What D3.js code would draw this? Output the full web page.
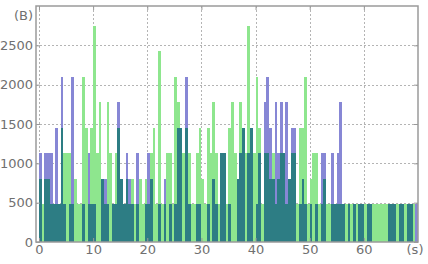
<!DOCTYPE html>
<html>
<head>
<meta charset="utf-8">
<script src="https://cdn.jsdelivr.net/npm/d3@7"></script>
<style>
  body { margin: 0; background: #fff; }
  text { font-family: "DejaVu Sans", sans-serif; }
</style>
</head>
<body>
<svg width="428" height="264"></svg>
<script>
(function (d3) {
  'use strict';

  // bytes per 0.5 s bin
  const binSize = 0.5;
  const green = [
    805, 480, 805, 805, 480, 480, 480, 480, 1450, 1130,
    1130, 1130, 480, 805, 480, 480, 2100, 1450, 480, 1450,
    2750, 1130, 1775, 805, 480, 1775, 1130, 480, 1130, 1450,
    805, 480, 805, 480, 805, 480, 480, 805, 480, 805,
    480, 1130, 1450, 480, 2425, 480, 480, 1130, 1130, 480,
    2100, 1775, 1450, 1130, 1450, 1130, 480, 480, 1130, 1450,
    805, 480, 1450, 1130, 1775, 1130, 480, 1130, 1130, 480,
    1450, 1775, 1130, 805, 1775, 1450, 1130, 2750, 1450, 1130,
    2100, 1450, 480, 1130, 1130, 805, 1130, 480, 805, 1130,
    1130, 480, 805, 1130, 1130, 480, 1450, 1450, 2100, 480,
    805, 1130, 1130, 480, 480, 805, 480, 480, 480, 480,
    480, 480, 480, 480, 480, 480, 480, 480, 480, 480,
    480, 480, 480, 480, 480, 480, 480, 480, 480, 480,
    480, 480, 480, 480, 480, 480, 480, 480, 480, 0
  ];
  const blue = [
    1130, 0, 1130, 1130, 1130, 480, 1450, 480, 2100, 480,
    0, 480, 2100, 0, 0, 0, 480, 0, 1130, 480,
    480, 0, 0, 805, 805, 480, 0, 480, 480, 1775,
    805, 480, 1130, 805, 480, 0, 1130, 0, 0, 480,
    1130, 805, 0, 0, 480, 0, 805, 0, 480, 0,
    480, 1450, 1450, 0, 2100, 480, 0, 0, 480, 480,
    0, 0, 480, 0, 805, 480, 0, 1130, 1130, 0,
    480, 0, 0, 805, 1130, 1450, 0, 1130, 1450, 0,
    480, 1130, 0, 1775, 2100, 1450, 805, 1775, 1130, 1775,
    1130, 1775, 805, 1450, 1450, 0, 480, 805, 480, 0,
    480, 0, 480, 0, 1130, 1130, 0, 0, 1130, 480,
    1130, 1775, 480, 0, 480, 0, 480, 0, 480, 480,
    0, 480, 480, 0, 0, 0, 0, 0, 0, 480,
    480, 480, 0, 480, 480, 0, 480, 480, 0, 480
  ];
  const xTicks = [0, 10, 20, 30, 40, 50, 60];
  const yTicks = [0, 500, 1000, 1500, 2000, 2500];
  const xUnit = '(s)';
  const yUnit = '(B)';

  const svg = d3.select('svg');
  const left = 36, right = 418, top = 6, bottom = 242;

  const x = d3.scaleLinear().domain([-0.55, 70]).range([left, right]);
  const y = d3.scaleLinear().domain([0, 3000]).range([bottom, top]);

  const bins = green.map((g, i) => ({ t: i * binSize, g: g, b: blue[i] }));

  // grid
  const grid = svg.append('g')
    .attr('stroke', '#b4b4b4')
    .attr('stroke-width', 1)
    .attr('stroke-dasharray', '2,2');
  grid.selectAll('.gx')
    .data(xTicks)
    .enter()
    .append('line')
    .attr('x1', d => Math.round(x(d)) + 0.5)
    .attr('x2', d => Math.round(x(d)) + 0.5)
    .attr('y1', top)
    .attr('y2', bottom);
  grid.selectAll('.gy')
    .data(yTicks.slice(1))
    .enter()
    .append('line')
    .attr('x1', left)
    .attr('x2', right)
    .attr('y1', d => Math.round(y(d)) + 0.5)
    .attr('y2', d => Math.round(y(d)) + 0.5);

  const bx = d => Math.round(x(d.t));
  const bw = d => Math.round(x(d.t + binSize)) - Math.round(x(d.t));

  const drawLayer = (data, value, colour) => {
    bars.selectAll(null)
      .data(data.filter(d => value(d) > 0))
      .enter()
      .append('rect')
      .attr('x', bx)
      .attr('width', bw)
      .attr('y', d => y(value(d)))
      .attr('height', d => y(0) - y(value(d)))
      .attr('fill', colour);
  };

  const bars = svg.append('g').attr('shape-rendering', 'crispEdges');
  drawLayer(bins, d => d.g, '#8ee68e');
  drawLayer(bins, d => d.b, '#8787d5');
  // where both series cover the same bin
  drawLayer(bins, d => Math.min(d.g, d.b), '#2d7d84');

  // axes, ticks pointing inward
  const styleAxis = g => {
    g.select('.domain').remove();
    g.selectAll('line').attr('stroke', '#999');
    g.selectAll('text')
      .attr('fill', '#707070')
      .style('font-size', '13px')
      .style('font-family', '"DejaVu Sans", sans-serif');
  };

  svg.append('g')
    .attr('transform', `translate(0,${bottom})`)
    .call(d3.axisBottom(x).tickValues(xTicks).tickSize(-4).tickPadding(3).tickFormat(d3.format('d')))
    .call(styleAxis);
  svg.append('g')
    .attr('transform', `translate(${left},0)`)
    .call(d3.axisLeft(y).tickValues(yTicks).tickSize(-4).tickPadding(3).tickFormat(d3.format('d')))
    .call(styleAxis);
  svg.append('g')
    .attr('transform', `translate(0,${top})`)
    .call(d3.axisTop(x).tickValues(xTicks).tickSize(-4).tickFormat(''))
    .call(styleAxis);
  svg.append('g')
    .attr('transform', `translate(${right},0)`)
    .call(d3.axisRight(y).tickValues(yTicks).tickSize(-4).tickFormat(''))
    .call(styleAxis);

  svg.append('rect')
    .attr('x', left)
    .attr('y', top)
    .attr('width', right - left)
    .attr('height', bottom - top)
    .attr('fill', 'none')
    .attr('stroke', '#9a9a9a')
    .attr('stroke-width', 1.5);

  svg.append('text')
    .attr('x', x(70) - 3)
    .attr('y', bottom + 3)
    .attr('dy', '0.71em')
    .attr('text-anchor', 'middle')
    .attr('fill', '#707070')
    .style('font-size', '13px')
    .text(xUnit);
  svg.append('text')
    .attr('x', left - 3)
    .attr('y', y(2880))
    .attr('dy', '0.32em')
    .attr('text-anchor', 'end')
    .attr('fill', '#707070')
    .style('font-size', '13px')
    .text(yUnit);

}(d3));
</script>
</body>
</html>
